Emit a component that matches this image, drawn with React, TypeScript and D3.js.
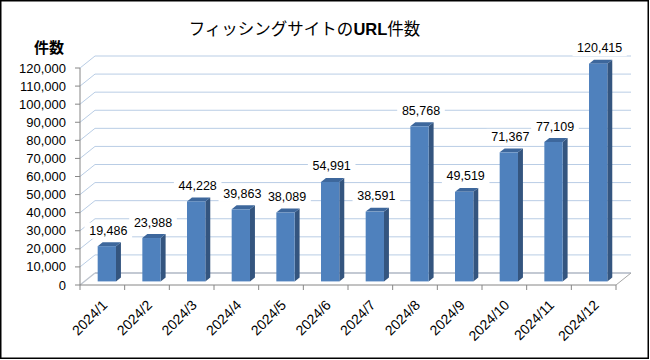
import React from "react";
import * as d3 from "d3";

const months = ["2024/1","2024/2","2024/3","2024/4","2024/5","2024/6","2024/7","2024/8","2024/9","2024/10","2024/11","2024/12"];
const counts = [19486, 23988, 44228, 39863, 38089, 54991, 38591, 85768, 49519, 71367, 77109, 120415];
const yTicks = [0,10000,20000,30000,40000,50000,60000,70000,80000,90000,100000,110000,120000];
const titleJa = "フィッシングサイトの";
const titleEn = "URL";
const titleEnd = "件数";
const yTitle = "件数";

const W = 650, H = 360;
const X0 = 80, X1 = 616, Y0 = 285, Y1 = 68;
const DX = 15, DY = -12;
const F1 = 0.3, FD = 0.33;
const NUM_FONT = "'Liberation Sans', Arial, sans-serif";
const JP_FONT = "'Noto Sans CJK JP', 'Noto Sans', sans-serif";

export default function App() {
  const x = d3.scaleBand<string>().domain(months).range([X0, X1]).paddingInner(0.59).paddingOuter(0.295);
  const y = d3.scaleLinear().domain([0, 120000]).range([Y0, Y1]);
  const fmt = d3.format(",");
  const step = x.step();
  const bw = x.bandwidth();
  const sx = F1 * DX, sy = F1 * DY;
  const ddx = FD * DX, ddy = FD * DY;

  return (
    <svg width={W} height={H} style={{ position: "absolute", left: 0, top: 0, background: "#fff" }}>
      <rect x={0.75} y={0.75} width={647.5} height={357.5} fill="#fff" stroke="#000" strokeWidth={1.5} />
      {/* Title */}
      <text x={304.5} y={35} textAnchor="middle" fontFamily={JP_FONT} fontSize={16.5} fill="#000">
        <tspan>{titleJa}</tspan>
        <tspan fontWeight="bold" fontFamily="'Liberation Sans', Arial, sans-serif">{titleEn}</tspan>
        <tspan>{titleEnd}</tspan>
      </text>
      <text x={64} y={47.5} dy="0.35em" textAnchor="end" fontFamily={JP_FONT} fontWeight="bold" fontSize={15} fill="#000">{yTitle}</text>

      {/* Walls gridlines */}
      {yTicks.map((t) => (
        <g key={"g" + t}>
          <line x1={X0} y1={y(t)} x2={X0 + DX} y2={y(t) + DY} stroke={t === 0 ? "#bfc5cf" : "#b9cde5"} strokeWidth={t === 0 ? 1.5 : 1} />
          <line x1={X0 + DX} y1={y(t) + DY} x2={X1 + DX} y2={y(t) + DY} stroke={t === 0 ? "#c3c9d3" : "#b9cde5"} strokeWidth={t === 0 ? 2 : 1} />
        </g>
      ))}
      {/* floor right edge */}
      <line x1={X1} y1={Y0} x2={X1 + DX} y2={Y0 + DY} stroke="#a6a6a6" strokeWidth={1} />

      {/* Y axis */}
      <line x1={X0} y1={Y1} x2={X0} y2={Y0} stroke="#868686" strokeWidth={1} />
      {yTicks.map((t) => (
        <g key={"yt" + t}>
          <line x1={X0 - 5} y1={y(t)} x2={X0} y2={y(t)} stroke="#868686" />
          <text x={66} y={y(t)} dy="0.35em" textAnchor="end" fontFamily={NUM_FONT} fontSize={13} fill="#000">{fmt(t)}</text>
        </g>
      ))}
      {/* X axis */}
      <line x1={X0} y1={Y0} x2={X1} y2={Y0} stroke="#868686" strokeWidth={1} />
      {d3.range(months.length + 1).map((i) => (
        <line key={"xt" + i} x1={X0 + i * step} y1={Y0} x2={X0 + i * step} y2={Y0 + 5} stroke="#868686" />
      ))}
      {months.map((m) => {
        const cx = (x(m) as number) + bw / 2;
        return (
          <text key={"xl" + m} transform={`translate(${cx + 6},${306}) rotate(-45)`} textAnchor="end" fontFamily={NUM_FONT} fontSize={14} fill="#000">{m}</text>
        );
      })}

      {/* Bars */}
      {months.map((m, i) => {
        const v = counts[i];
        const xl = (x(m) as number) + sx;
        const xr = xl + bw;
        const yt = y(v) + sy;
        const yb = y(0) + sy;
        const side = `${xr},${yt} ${xr + ddx},${yt + ddy} ${xr + ddx},${yb + ddy} ${xr},${yb}`;
        const top = `${xl},${yt} ${xr},${yt} ${xr + ddx},${yt + ddy} ${xl + ddx},${yt + ddy}`;
        const lx = xl + bw / 2 + 1.5;
        const ly = yt + ddy - 7.5;
        const label = fmt(v);
        const tw = label.length * 6.6;
        return (
          <g key={"b" + m}>
            <polygon points={side} fill="#34557f" />
            <polygon points={top} fill="#3d679c" />
            <rect x={xl} y={yt} width={bw} height={yb - yt} fill="#4f81bd" />
            <rect x={lx - tw / 2 - 4} y={ly - 12} width={tw + 8} height={16} fill="#fff" />
            <text x={lx} y={ly} textAnchor="middle" fontFamily={NUM_FONT} fontSize={12.5} fill="#000">{label}</text>
          </g>
        );
      })}
    </svg>
  );
}
